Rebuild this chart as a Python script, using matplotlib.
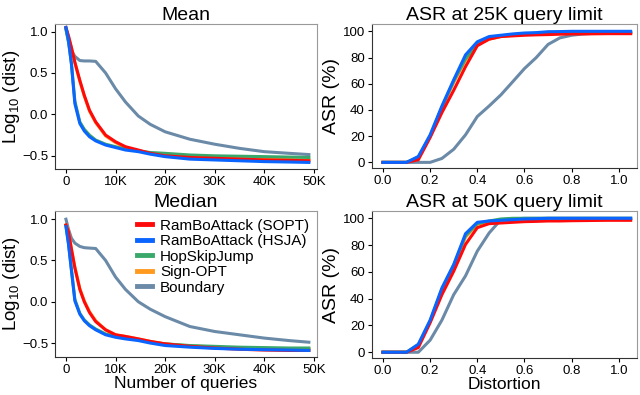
import numpy as np
import matplotlib.pyplot as plt

plt.rcParams['font.family'] = ['Liberation Sans', 'DejaVu Sans']
plt.rcParams['mathtext.fontset'] = 'custom'
plt.rcParams['mathtext.rm'] = 'Liberation Sans'
plt.rcParams['mathtext.it'] = 'Liberation Sans:italic'

# ---- data ----
names = ['RamBoAttack (SOPT)', 'RamBoAttack (HSJA)', 'HopSkipJump', 'Sign-OPT', 'Boundary']
colors = ['#ff0a0a', '#0a64ff', '#3aa86a', '#ff9a1f', '#6a8aa8']

q = [0, 500, 1100, 1800, 2800, 3700, 4750, 6000, 8000, 10000, 12000, 14600, 17000, 20000,
     25000, 30000, 35000, 40000, 45000, 49000]

mean_sopt = [1.05, 0.95, 0.81, 0.63, 0.41, 0.23, 0.05, -0.09, -0.25, -0.33, -0.39, -0.43, -0.47, -0.50,
             -0.52, -0.53, -0.54, -0.55, -0.555, -0.56]
mean_hsja = [1.05, 0.90, 0.61, 0.13, -0.11, -0.20, -0.27, -0.32, -0.37, -0.40, -0.43, -0.45, -0.48, -0.51,
             -0.54, -0.55, -0.56, -0.57, -0.575, -0.58]
mean_hsj = [1.03, 0.88, 0.62, 0.16, -0.09, -0.18, -0.25, -0.31, -0.36, -0.39, -0.42, -0.44, -0.46, -0.47,
            -0.49, -0.50, -0.505, -0.51, -0.515, -0.52]
mean_sign = [1.04, 0.94, 0.80, 0.62, 0.40, 0.22, 0.04, -0.10, -0.26, -0.34, -0.40, -0.44, -0.47, -0.50,
             -0.52, -0.53, -0.535, -0.54, -0.545, -0.55]
mean_bnd = [1.03, 0.88, 0.77, 0.70, 0.65, 0.645, 0.645, 0.64, 0.50, 0.31, 0.15, -0.02, -0.12, -0.21,
            -0.30, -0.36, -0.41, -0.45, -0.47, -0.485]

med_sopt = [0.93, 0.85, 0.64, 0.41, 0.15, 0.0, -0.13, -0.24, -0.34, -0.40, -0.42, -0.45, -0.48, -0.51,
            -0.54, -0.56, -0.575, -0.585, -0.59, -0.59]
med_hsja = [0.91, 0.70, 0.38, 0.01, -0.15, -0.23, -0.29, -0.34, -0.40, -0.43, -0.45, -0.47, -0.50, -0.53,
            -0.55, -0.565, -0.575, -0.58, -0.585, -0.59]
med_hsj = [0.92, 0.72, 0.40, 0.03, -0.14, -0.22, -0.28, -0.33, -0.39, -0.42, -0.44, -0.46, -0.49, -0.51,
           -0.53, -0.54, -0.55, -0.555, -0.56, -0.56]
med_sign = [0.93, 0.85, 0.64, 0.42, 0.16, 0.01, -0.12, -0.23, -0.34, -0.40, -0.42, -0.45, -0.48, -0.51,
            -0.535, -0.55, -0.56, -0.565, -0.57, -0.57]
med_bnd = [1.00, 0.88, 0.77, 0.71, 0.67, 0.655, 0.65, 0.645, 0.50, 0.30, 0.15, 0.0, -0.09, -0.18,
           -0.30, -0.36, -0.40, -0.44, -0.47, -0.49]

d = [0.0, 0.05, 0.1, 0.15, 0.2, 0.25, 0.3, 0.35, 0.4, 0.45, 0.5, 0.55, 0.6, 0.65, 0.7, 0.75, 0.8,
     0.85, 0.9, 0.95, 1.0, 1.05]

asr25_sopt = [0, 0, 0, 2, 19, 38, 55, 73, 89, 94, 96, 96.5, 97, 97.3, 97.5, 97.8, 98, 98, 98.1, 98.2, 98.2, 98.2]
asr25_hsja = [0, 0, 0, 4.5, 21, 43, 63, 82, 92, 96, 97, 98, 98.7, 99, 99.7, 99.8, 100, 100, 100, 100, 100, 100]
asr25_hsj = [0, 0, 0, 4, 20, 42, 62, 79, 90, 95, 96.5, 97.5, 98, 98.5, 98.8, 99, 99, 99, 99, 99, 99, 99]
asr25_sign = [0, 0, 0, 3, 20, 42, 61, 78, 90, 94, 96, 97, 97.5, 98, 98.2, 98.4, 98.5, 98.5, 98.5, 98.5, 98.5, 98.5]
asr25_bnd = [0, 0, 0, 0, 0, 3, 10, 21, 35, 43, 51.5, 61.5, 71.6, 80, 90, 95, 97, 98, 98.5, 99, 99, 99]

asr50_sopt = [0, 0, 0, 3.5, 22, 43, 60.5, 80.5, 93, 96, 96.5, 97, 97.5, 97.7, 98, 98, 98.2, 98.3, 98.4, 98.5, 98.5, 98.5]
asr50_hsja = [0, 0, 0, 6, 24, 48, 65.5, 88.5, 97, 98, 98.5, 99, 99.5, 99.7, 100, 100, 100, 100, 100, 100, 100, 100]
asr50_hsj = [0, 0, 0, 5.5, 23, 47, 65, 87, 96, 98, 99.5, 100, 100, 100, 100, 100, 100, 100, 100, 100, 100, 100]
asr50_sign = [0, 0, 0, 5, 23, 46, 64, 86, 95.5, 97.5, 98, 98.5, 99, 99, 99, 99, 99, 99, 99, 99, 99, 99]
asr50_bnd = [0, 0, 0, 0, 9, 24, 43, 57, 75.5, 89, 99, 99.5, 100, 100, 100, 100, 100, 100, 100, 100, 100, 100]

# draw order: boundary, sign-opt, hsj, sopt, hsja
order = [4, 3, 2, 0, 1]

fig = plt.figure(figsize=(6.4, 3.95), dpi=100)
ax1 = fig.add_axes([0.086, 0.572, 0.409, 0.367])
ax2 = fig.add_axes([0.581, 0.574, 0.414, 0.365])
ax3 = fig.add_axes([0.086, 0.096, 0.409, 0.370])
ax4 = fig.add_axes([0.581, 0.093, 0.414, 0.373])

def style(ax):
    for s in ['left', 'bottom']:
        ax.spines[s].set_color('#333333')
    for s in ['top', 'right']:
        ax.spines[s].set_color('#999999')
    ax.tick_params(labelsize=9.5, length=3, width=0.8, pad=2)

mean_all = [mean_sopt, mean_hsja, mean_hsj, mean_sign, mean_bnd]
med_all = [med_sopt, med_hsja, med_hsj, med_sign, med_bnd]
asr25_all = [asr25_sopt, asr25_hsja, asr25_hsj, asr25_sign, asr25_bnd]
asr50_all = [asr50_sopt, asr50_hsja, asr50_hsj, asr50_sign, asr50_bnd]

for i in order:
    ax1.plot(q, mean_all[i], color=colors[i], lw=2.2)
    ax3.plot(q, med_all[i], color=colors[i], lw=2.2, label=names[i])
    ax2.plot(d, asr25_all[i], color=colors[i], lw=2.2)
    ax4.plot(d, asr50_all[i], color=colors[i], lw=2.2)

kticks = [0, 10000, 20000, 30000, 40000, 50000]
klabels = ['0', '10K', '20K', '30K', '40K', '50K']
for ax in (ax1, ax3):
    style(ax)
    ax.set_xlim(-2200, 50600)
    ax.set_xticks(kticks)
    ax.set_xticklabels(klabels)
    ax.set_yticks([-0.5, 0.0, 0.5, 1.0])
    ax.set_ylabel(r'Log$_{10}$ (dist)', fontsize=13.5, labelpad=0)
ax1.set_ylim(-0.66, 1.09)
ax3.set_ylim(-0.67, 1.10)
ax1.set_title('Mean', fontsize=14, pad=2)
ax3.set_title('Median', fontsize=14, pad=2)
ax3.set_xlabel('Number of queries', fontsize=12.5, labelpad=0)

for ax in (ax2, ax4):
    style(ax)
    ax.set_xlim(-0.047, 1.076)
    ax.set_ylim(-4.5, 105.5)
    ax.set_xticks([0.0, 0.2, 0.4, 0.6, 0.8, 1.0])
    ax.set_yticks([0, 20, 40, 60, 80, 100])
    ax.set_ylabel('ASR (%)', fontsize=14, labelpad=2)
ax2.set_title('ASR at 25K query limit', fontsize=14, pad=2)
ax4.set_title('ASR at 50K query limit', fontsize=14, pad=2)
ax4.set_xlabel('Distortion', fontsize=12.5, labelpad=0)

h, l = ax3.get_legend_handles_labels()
idx = [l.index(n) for n in names]
leg = ax3.legend([h[k] for k in idx], [l[k] for k in idx], loc='upper right',
                 frameon=False, fontsize=11, handlelength=1.0, handletextpad=0.5,
                 labelspacing=0.1, borderaxespad=0.1)
for line in leg.get_lines():
    line.set_linewidth(3.5)

fig.savefig('out.png', dpi=100)
